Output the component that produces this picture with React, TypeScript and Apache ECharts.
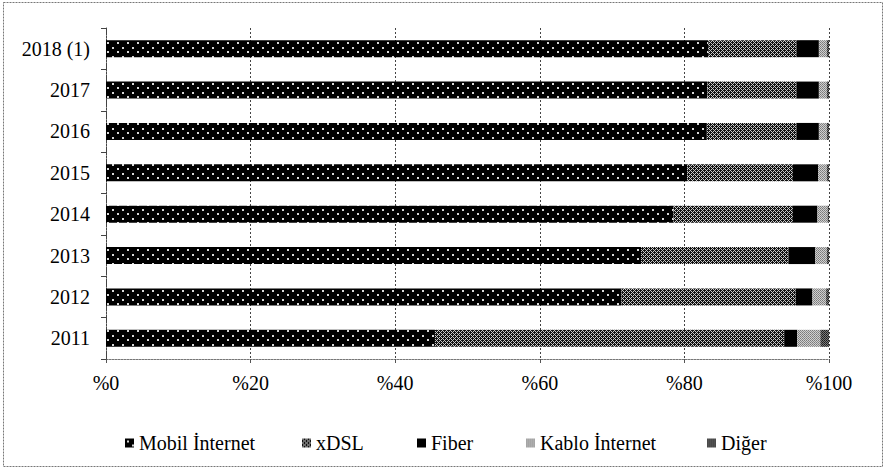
import React, { useEffect, useRef } from 'react';
import * as echarts from 'echarts';

const categories = ['2011', '2012', '2013', '2014', '2015', '2016', '2017', '2018 (1)'];
const seriesNames = ['Mobil İnternet', 'xDSL', 'Fiber', 'Kablo İnternet', 'Diğer'];
const mobil = [45.5, 71.3, 74.0, 78.5, 80.4, 83.1, 83.2, 83.3];
const xdsl = [48.3, 24.1, 20.4, 16.5, 14.6, 12.4, 12.3, 12.2];
const fiber = [1.8, 2.3, 3.7, 3.4, 3.5, 3.1, 3.1, 3.1];
const kablo = [3.2, 1.9, 1.6, 1.4, 1.2, 1.1, 1.1, 1.1];
const diger = [1.2, 0.4, 0.3, 0.2, 0.3, 0.3, 0.3, 0.3];
const xTicks = [0, 20, 40, 60, 80, 100];

const FONT = 'Liberation Serif';

function tile(w: number, h: number, bg: string, pts: [number, number, string, number?][]) {
  const c = document.createElement('canvas');
  c.width = w;
  c.height = h;
  const ctx = c.getContext('2d')!;
  ctx.fillStyle = bg;
  ctx.fillRect(0, 0, w, h);
  pts.forEach(([x, y, col, s]) => {
    ctx.fillStyle = col;
    ctx.fillRect(x, y, s || 1, s || 1);
  });
  return { image: c, repeat: 'repeat', imageWidth: w, imageHeight: h } as any;
}

export default function App() {
  const ref = useRef<HTMLDivElement>(null);
  useEffect(() => {
    if (!ref.current) return;
    const chart = echarts.init(ref.current, undefined, { renderer: 'svg' });

    const patMobil = tile(10, 9, '#000', [
      [2, 2, '#d8d8d8', 2],
      [7, 6, '#d8d8d8', 2],
    ]);
    const L = '#c8c8c8';
    const patXdsl = tile(4, 4, '#111', [
      [0, 0, L],
      [1, 1, L],
      [2, 2, L],
      [3, 3, L],
      [3, 1, L],
      [1, 3, L],
    ]);
    const patKablo = tile(2, 2, '#d0d0d0', [
      [0, 0, '#7a7a7a'],
      [1, 1, '#8a8a8a'],
    ]);
    const patDiger = tile(2, 2, '#7a7a7a', [
      [0, 0, '#1a1a1a'],
      [1, 1, '#2a2a2a'],
    ]);

    const values = [mobil, xdsl, fiber, kablo, diger];
    const colors = [patMobil, patXdsl, '#000', patKablo, patDiger];
    const legendLeft = [120, 297, 412, 521, 702];

    chart.setOption({
      animation: false,
      backgroundColor: '#fff',
      grid: { left: 106, right: 57, top: 28, bottom: 113, containLabel: false },
      xAxis: {
        type: 'value',
        min: xTicks[0],
        max: xTicks[xTicks.length - 1],
        interval: 20,
        axisLine: { show: true, lineStyle: { color: '#777', type: [2, 1], width: 1 } },
        axisTick: { show: true, length: 4, lineStyle: { color: '#555' } },
        splitLine: { show: true, lineStyle: { color: '#444', type: [2, 2], width: 1 } },
        axisLabel: {
          formatter: (v: number) => '%' + v,
          fontFamily: FONT,
          fontSize: 20,
          color: '#000',
          margin: 14,
        },
      },
      yAxis: {
        type: 'category',
        data: categories,
        axisLine: { show: true, lineStyle: { color: '#444', type: [2, 1], width: 1 } },
        axisTick: { show: true, length: 5, lineStyle: { color: '#444' } },
        axisLabel: { fontFamily: FONT, fontSize: 20, color: '#000', margin: 16 },
      },
      legend: seriesNames.map((n, i) => ({
        data: [{ name: n, icon: 'rect' }],
        left: legendLeft[i],
        top: 426,
        itemWidth: 9,
        itemHeight: 9,
        selectedMode: false,
        textStyle: { fontFamily: FONT, fontSize: 20, color: '#000', lineHeight: 24 },
      })),
      series: seriesNames.map((n, i) => ({
        name: n,
        type: 'bar',
        stack: 'total',
        barWidth: 17,
        data: values[i],
        itemStyle: { color: colors[i] },
      })),
      graphic: [
        {
          type: 'rect',
          shape: { x: 3.5, y: 2.5, width: 879, height: 464 },
          style: { fill: 'none', stroke: '#777', lineWidth: 1, lineDash: [2, 1] },
          silent: true,
        },
      ],
    });
    return () => chart.dispose();
  }, []);
  return (
    <div
      ref={ref}
      style={{ position: 'fixed', left: 0, top: 0, width: 886, height: 472, background: '#fff' }}
    />
  );
}
